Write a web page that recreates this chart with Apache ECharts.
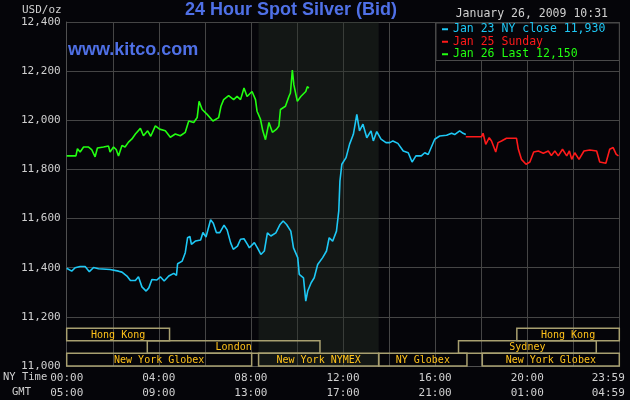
<!DOCTYPE html>
<html>
<head>
<meta charset="utf-8">
<title>24 Hour Spot Silver</title>
<script src="https://cdn.jsdelivr.net/npm/echarts@6/dist/echarts.min.js"></script>
<style>
  html, body { margin: 0; padding: 0; background: #050509; }
  #chart { width: 630px; height: 400px; }
</style>
</head>
<body>
<div id="chart"></div>
<script>
// minutes after NY midnight -> price (USD/oz)
var jan23Min = [0, 13, 22, 35, 48, 59, 70, 83, 113, 135, 144, 157, 166, 179, 187, 196, 207, 214, 222, 235,
  244, 254, 266, 279, 286, 289, 301, 309, 315, 321, 325, 336, 349, 355, 363, 375, 382, 390, 399, 410,
  418, 427, 434, 445, 453, 462, 471, 476, 489, 497, 506, 515, 523, 532, 545, 556, 564, 573, 584, 591,
  602, 606, 617, 623, 628, 637, 645, 654, 667, 677, 684, 693, 703, 709, 712, 717, 728, 737, 747, 756,
  763, 772, 782, 793, 799, 808, 819, 832, 842, 850, 863, 877, 890, 900, 910, 924, 933, 942, 959, 972,
  990, 1003, 1011, 1024, 1033, 1040];
var jan23Usd = [11398, 11386, 11400, 11405, 11405, 11384, 11401, 11396, 11393, 11386, 11382, 11366, 11348, 11348, 11363, 11322, 11305, 11318, 11352, 11350,
  11363, 11346, 11366, 11377, 11369, 11416, 11427, 11461, 11522, 11527, 11495, 11509, 11513, 11543, 11525, 11595, 11581, 11543, 11543, 11573,
  11554, 11502, 11475, 11488, 11516, 11518, 11495, 11481, 11502, 11481, 11454, 11468, 11542, 11529, 11542, 11576, 11590, 11576, 11549, 11481,
  11441, 11373, 11359, 11264, 11305, 11339, 11359, 11413, 11441, 11468, 11522, 11508, 11549, 11631, 11753, 11821, 11848, 11902, 11943, 12024,
  11957, 11984, 11929, 11957, 11916, 11954, 11923, 11909, 11909, 11916, 11906, 11875, 11868, 11830, 11855, 11855, 11868, 11861, 11923, 11936,
  11939, 11947, 11942, 11957, 11947, 11942];

var jan25Min = [1040, 1081, 1085, 1092, 1101, 1107, 1111, 1118, 1124, 1133, 1146, 1172, 1177, 1185, 1197, 1207, 1217, 1229, 1242, 1255,
  1263, 1272, 1281, 1292, 1303, 1310, 1316, 1324, 1335, 1348, 1363, 1381, 1389, 1405, 1415, 1424, 1432, 1438];
var jan25Usd = [11933, 11933, 11947, 11902, 11929, 11916, 11909, 11871, 11909, 11916, 11927, 11927, 11882, 11841, 11821, 11830, 11871, 11875, 11866, 11875,
  11857, 11875, 11855, 11882, 11855, 11875, 11841, 11868, 11841, 11875, 11879, 11875, 11830, 11825, 11882, 11889, 11861, 11855];

var jan26Min = [0, 24, 28, 35, 44, 57, 65, 74, 80, 96, 109, 113, 122, 129, 135, 144, 152, 161, 170, 179,
  192, 200, 211, 219, 231, 242, 257, 270, 283, 296, 309, 318, 331, 340, 345, 353, 366, 381, 396, 402,
  409, 422, 435, 444, 453, 462, 470, 483, 492, 496, 505, 511, 518, 527, 536, 547, 553, 557, 570, 579,
  583, 588, 592, 601, 610, 623, 627, 631];
var jan26Usd = [11855, 11855, 11884, 11871, 11891, 11891, 11881, 11851, 11887, 11891, 11895, 11871, 11891, 11881, 11855, 11897, 11891, 11911, 11924, 11944,
  11967, 11937, 11957, 11935, 11977, 11964, 11957, 11931, 11944, 11937, 11951, 11997, 11991, 12011, 12077, 12044, 12024, 11997, 12011, 12057,
  12084, 12100, 12084, 12097, 12084, 12131, 12097, 12117, 12084, 12037, 12004, 11957, 11921, 11991, 11951, 11964, 11977, 12044, 12057, 12097,
  12111, 12204, 12144, 12077, 12097, 12117, 12137, 12131];

var seriesNames = ['Jan 23 NY close 11,930', 'Jan 25 Sunday', 'Jan 26 Last 12,150'];

// COMEX floor session (shaded), NY time in minutes
var comexFrom = 500;
var comexTo = 813;

// market sessions along the bottom: row 0 = top band
var sessionNames = ['Hong Kong', 'Hong Kong', 'London', 'Sydney', 'New York Globex', 'New York NYMEX', 'NY Globex', 'New York Globex'];
var sessionFrom = [0, 1173, 210, 1021, 0, 500, 813, 1083];
var sessionTo = [268, 1440, 660, 1380, 482, 813, 1043, 1440];
var sessionRow = [0, 0, 1, 1, 2, 2, 2, 2];

var yTicks = [11000, 11200, 11400, 11600, 11800, 12000, 12200, 12400];

var mono = 'DejaVu Sans Mono';
var kitcoBlue = '#4f70e6';

function pairs(xs, ys) {
  return xs.map(function (x, i) { return [x, ys[i]]; });
}
function pad2(n) { return n < 10 ? '0' + n : '' + n; }
function hhmm(m) { return pad2(Math.floor(m / 60)) + ':' + pad2(m % 60); }

var sessionData = sessionNames.map(function (name, i) {
  return [sessionFrom[i], sessionTo[i], sessionRow[i], name];
});

// each session band is ~51 USD tall, stacked up from the axis floor
var bandTop = 11154;
var bandH = 51.3;

var chart = echarts.init(document.getElementById('chart'));
chart.setOption({
  animation: false,
  backgroundColor: '#050509',
  title: {
    text: '24 Hour Spot Silver (Bid)',
    left: 185,
    top: 1,
    padding: 0,
    textStyle: { color: kitcoBlue, fontFamily: 'Liberation Sans', fontSize: 18, fontWeight: 'bold' }
  },
  legend: {
    orient: 'vertical',
    left: 436,
    top: 23,
    padding: [0, 14, 0, 6],
    itemGap: 0,
    itemWidth: 6,
    itemHeight: 2,
    icon: 'rect',
    selectedMode: false,
    backgroundColor: '#050509',
    borderColor: '#4a4a4a',
    borderWidth: 1,
    textStyle: { fontFamily: mono, fontSize: 11.5, lineHeight: 12.5 },
    data: [
      { name: seriesNames[0], textStyle: { color: '#1ec8f5' } },
      { name: seriesNames[1], textStyle: { color: '#ff1a1a' } },
      { name: seriesNames[2], textStyle: { color: '#22ff11' } }
    ]
  },
  graphic: [
    {
      type: 'text', left: 68, top: 41,
      style: { text: 'www.kitco.com', fill: kitcoBlue, font: 'bold 18px "Liberation Sans"' }
    },
    {
      type: 'text', right: 22, top: 8,
      style: { text: 'January 26, 2009 10:31', fill: '#d0d0d0', font: '11.5px "DejaVu Sans Mono"' }
    },
    {
      type: 'text', left: 3, top: 372,
      style: { text: 'NY Time', fill: '#d0d0d0', font: '10.5px "DejaVu Sans Mono"' }
    },
    {
      type: 'text', left: 12, top: 387,
      style: { text: 'GMT', fill: '#d0d0d0', font: '10.5px "DejaVu Sans Mono"' }
    }
  ],
  grid: { left: 66.7, right: 10.7, top: 22, bottom: 34, containLabel: false, outerBoundsMode: 'none' },
  xAxis: {
    type: 'value',
    min: 0,
    max: 1440,
    interval: 120,
    axisLine: { show: true, lineStyle: { color: '#505050' } },
    axisTick: { show: false },
    splitLine: { show: true, lineStyle: { color: '#454545', width: 1 } },
    axisLabel: {
      margin: 5,
      color: '#d0d0d0',
      fontFamily: mono,
      fontSize: 11,
      lineHeight: 15,
      formatter: function (v) {
        if (v % 240 !== 0) return '';
        var m = Math.min(v, 1439);
        var ny = hhmm(m);
        var gmt = hhmm((m + 300) % 1440);
        if (v === 1440) return '{last|' + ny + '}\n{last|' + gmt + '}';
        return ny + '\n' + gmt;
      },
      rich: {
        last: { color: '#d0d0d0', fontFamily: mono, fontSize: 11, lineHeight: 15, padding: [0, 22, 0, 0] }
      }
    }
  },
  yAxis: {
    type: 'value',
    min: yTicks[0],
    max: yTicks[yTicks.length - 1],
    interval: 200,
    name: 'USD/oz',
    nameLocation: 'end',
    nameGap: 6,
    nameTextStyle: { color: '#d0d0d0', fontFamily: mono, fontSize: 11, align: 'right', padding: [0, 5, 0, 0] },
    axisLine: { show: true, lineStyle: { color: '#505050' } },
    axisTick: { show: false },
    splitLine: { show: true, lineStyle: { color: '#454545', width: 1 } },
    axisLabel: {
      margin: 6,
      color: '#d0d0d0',
      fontFamily: mono,
      fontSize: 11,
      formatter: function (v) { return v.toLocaleString('en-US'); }
    }
  },
  series: [
    {
      name: seriesNames[0],
      type: 'line',
      showSymbol: false,
      color: '#1ec8f5',
      lineStyle: { width: 1.6 },
      data: pairs(jan23Min, jan23Usd),
      markArea: {
        silent: true,
        itemStyle: { color: 'rgba(40,50,40,0.4)' },
        data: [[{ xAxis: comexFrom }, { xAxis: comexTo }]]
      }
    },
    {
      name: seriesNames[1],
      type: 'line',
      showSymbol: false,
      color: '#ff1a1a',
      lineStyle: { width: 1.6 },
      data: pairs(jan25Min, jan25Usd)
    },
    {
      name: seriesNames[2],
      type: 'line',
      showSymbol: false,
      color: '#22ff11',
      lineStyle: { width: 1.6 },
      data: pairs(jan26Min, jan26Usd)
    },
    {
      name: 'sessions',
      type: 'custom',
      silent: true,
      data: sessionData,
      renderItem: function (params, api) {
        var row = api.value(2);
        var top = bandTop - row * bandH;
        var p0 = api.coord([api.value(0), top]);
        var p1 = api.coord([api.value(1), top - bandH]);
        var w = p1[0] - p0[0];
        var h = p1[1] - p0[1];
        return {
          type: 'group',
          children: [
            {
              type: 'rect',
              shape: { x: p0[0], y: p0[1], width: w, height: h },
              style: { fill: null, stroke: '#a8a070', lineWidth: 1.5 }
            },
            {
              type: 'text',
              style: {
                text: sessionData[params.dataIndex][3],
                x: p0[0] + w / 2,
                y: p0[1] + h / 2 + 0.5,
                textAlign: 'center',
                textVerticalAlign: 'middle',
                align: 'center',
                verticalAlign: 'middle',
                fill: '#ffc21a',
                font: '10px "DejaVu Sans Mono"'
              }
            }
          ]
        };
      }
    }
  ]
});
</script>
</body>
</html>
